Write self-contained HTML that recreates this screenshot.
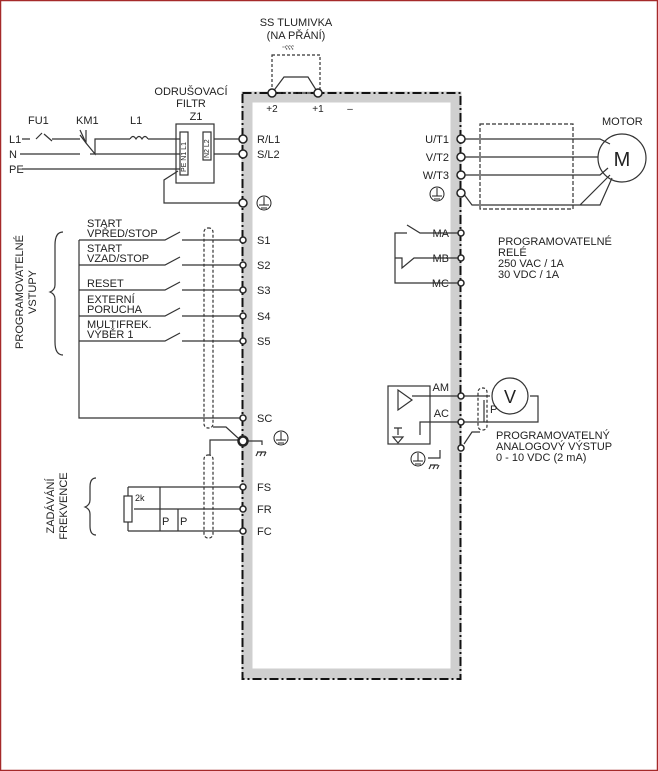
<!DOCTYPE html>
<html><head><meta charset="utf-8"><style>
html,body{margin:0;padding:0;background:#fff}
svg{display:block}
text{font-family:"Liberation Sans",sans-serif;fill:#222}
</style></head><body>
<svg width="658" height="771" viewBox="0 0 658 771" xmlns="http://www.w3.org/2000/svg">
<rect x="0.5" y="0.5" width="657" height="770" fill="#fff" stroke="#a52a2a" stroke-width="1.5"/>
<!-- drive box -->
<rect x="247" y="97" width="209" height="577" fill="none" stroke="#cfcfcf" stroke-width="11"/>
<rect x="242.5" y="93" width="218" height="586" fill="none" stroke="#111" stroke-width="2" stroke-dasharray="9,3,2,3"/>
<g stroke="#333" stroke-width="1.2" fill="none">
<!-- SS tlumivka -->
<rect x="272" y="55" width="48" height="38" stroke-dasharray="3,2"/>
<path d="M272 93 L284 77 L308 77 L318 93"/>
<!-- mains -->
<path d="M22 139 H30 M36 139 L42 133 M44 134 L52 141 M52 139 H80 M80 130 L86 143 L95 154 V139 H130 M148 139 H180"/>
<path d="M86 130 V143 M86 143 L80 135"/>
<path d="M20 154 H80 M90 154 L97 154 M97 154 H180"/>
<path d="M130 139 q3 -5 6 0 q3 -5 6 0 q3 -5 6 0"/>
<path d="M22 169 H180"/>
<!-- filter -->
<rect x="176" y="124" width="38" height="59"/>
<rect x="180" y="132" width="8" height="43"/>
<rect x="203" y="132" width="8" height="28"/>
<path d="M214 139 H240 M214 154 H240"/>
<path d="M178 171 L164 180 V203 H240"/>
<!-- program inputs -->
<path d="M79 240 V418 H240"/>
<path d="M79 240 H165 L180 232 M182 240 H240"/>
<path d="M79 265 H165 L180 257 M182 265 H240"/>
<path d="M79 290 H165 L180 282 M182 290 H240"/>
<path d="M79 316 H165 L180 308 M182 316 H240"/>
<path d="M79 341 H165 L180 333 M182 341 H240"/>
<rect x="204" y="228" width="9" height="200" rx="4" stroke-dasharray="3,2"/>
<rect x="204" y="455" width="9" height="83" rx="4" stroke-dasharray="3,2"/>
<path d="M213 427 H226 L238 438"/>
<path d="M210 455 V440 H238"/>
<path d="M246 441 H262 V445 M257 452 H266 M258 452 L256 456 M262 452 L260 456 M266 452 L264 456"/>
<!-- braces -->
<path d="M63 232 Q55 232 55 245 V285 Q55 290 50 292 Q55 294 55 299 V342 Q55 355 63 355"/>
<path d="M96 478 Q90 478 90 487 V500 Q90 505 85 507 Q90 509 90 514 V526 Q90 535 96 535"/>
<!-- pot -->
<path d="M128 487 H240 M128 531 H240 M128 487 V496 M128 522 V531"/>
<rect x="124" y="496" width="8" height="26"/>
<path d="M134 509 H240"/>
<path d="M160 487 V531 M178 509 V531"/>
<!-- motor -->
<path d="M463 139 H600 L610 144 M463 157 H598 M463 175 H600 L608 168 M463 193 L472 205 H580 L610 175 M478 205 H600 L612 178"/>
<rect x="480" y="124" width="93" height="85" stroke-dasharray="4,2"/>
<circle cx="622" cy="158" r="24"/>
<!-- relay -->
<path d="M458 233 H420 L407 225 M458 258 H414 L402 268 V258 H395 V283 H458 M395 258 V233 H407"/>
<!-- analog -->
<rect x="388" y="386" width="42" height="58"/>
<path d="M398 390 V410 L412 400 Z"/>
<path d="M412 396 H458 M458 422 H420 V435 M394 428 H402 M398 428 V435 M393 437 H403 L398 443 Z"/>
<path d="M463 396 H490 M530 396 H538 V422 H463"/>
<circle cx="510" cy="396" r="18"/>
<rect x="478" y="388" width="9" height="42" rx="4" stroke-dasharray="3,2"/>
<path d="M484 400 V422 M480 432 H472 L464 444"/>
<path d="M440 450 V458 H428 M430 465 H438 M431 465 L429 469 M435 465 L433 469 M439 465 L437 469"/>
</g>
<g fill="#fff" stroke="#222" stroke-width="1.5">
<circle cx="272" cy="93" r="4"/><circle cx="318" cy="93" r="4"/>
<circle cx="243" cy="139" r="4"/><circle cx="243" cy="154" r="4"/><circle cx="243" cy="203" r="4"/>
<circle cx="243" cy="240" r="3"/><circle cx="243" cy="265" r="3"/><circle cx="243" cy="290" r="3"/><circle cx="243" cy="316" r="3"/><circle cx="243" cy="341" r="3"/><circle cx="243" cy="418" r="3"/>
<circle cx="243" cy="441" r="4.5" stroke-width="2.5"/>
<circle cx="243" cy="487" r="3"/><circle cx="243" cy="509" r="3"/><circle cx="243" cy="531" r="3"/>
<circle cx="461" cy="139" r="4"/><circle cx="461" cy="157" r="4"/><circle cx="461" cy="175" r="4"/><circle cx="461" cy="193" r="4"/>
<circle cx="461" cy="233" r="3"/><circle cx="461" cy="258" r="3"/><circle cx="461" cy="283" r="3"/>
<circle cx="461" cy="396" r="3"/><circle cx="461" cy="422" r="3"/><circle cx="461" cy="448" r="3"/>
</g>
<!-- ground symbols -->
<g fill="none" stroke="#222" stroke-width="1">
<circle cx="264" cy="203" r="7"/><path d="M264 197 V205 M259 205 H269 M261 208 H267"/>
<circle cx="281" cy="438" r="7"/><path d="M281 432 V440 M276 440 H286 M278 443 H284"/>
<circle cx="437" cy="194" r="7"/><path d="M437 188 V196 M432 196 H442 M434 199 H440"/>
<circle cx="418" cy="459" r="7"/><path d="M418 453 V461 M413 461 H423 M415 464 H421"/>
</g>
<g font-size="11">
<text x="296" y="26" text-anchor="middle">SS TLUMIVKA</text>
<text x="296" y="39" text-anchor="middle">(NA PŘÁNÍ)</text>
<text x="288" y="50" font-size="6" text-anchor="middle">⁼ʕʕʕ</text>
<text x="272" y="112" font-size="10" text-anchor="middle">+2</text>
<text x="318" y="112" font-size="10" text-anchor="middle">+1</text>
<text x="350" y="112" font-size="10" text-anchor="middle">–</text>
<text x="191" y="95" text-anchor="middle">ODRUŠOVACÍ</text>
<text x="191" y="107" text-anchor="middle">FILTR</text>
<text x="196" y="120" text-anchor="middle">Z1</text>
<text x="28" y="124">FU1</text><text x="76" y="124">KM1</text><text x="130" y="124">L1</text>
<text x="9" y="143">L1</text><text x="9" y="158">N</text><text x="9" y="173">PE</text>
<text x="257" y="143">R/L1</text><text x="257" y="158">S/L2</text>
<text x="257" y="244">S1</text><text x="257" y="269">S2</text><text x="257" y="294">S3</text><text x="257" y="320">S4</text><text x="257" y="345">S5</text><text x="257" y="422">SC</text>
<text x="257" y="491">FS</text><text x="257" y="513">FR</text><text x="257" y="535">FC</text>
<text x="87" y="227">START</text><text x="87" y="237">VPŘED/STOP</text>
<text x="87" y="252">START</text><text x="87" y="262">VZAD/STOP</text>
<text x="87" y="287">RESET</text>
<text x="87" y="303">EXTERNÍ</text><text x="87" y="313">PORUCHA</text>
<text x="87" y="328">MULTIFREK.</text><text x="87" y="338">VÝBĚR 1</text>
<text x="23" y="292" text-anchor="middle" transform="rotate(-90 23 292)">PROGRAMOVATELNÉ</text>
<text x="36" y="292" text-anchor="middle" transform="rotate(-90 36 292)">VSTUPY</text>
<text x="54" y="506" text-anchor="middle" transform="rotate(-90 54 506)">ZADÁVÁNÍ</text>
<text x="67" y="506" text-anchor="middle" transform="rotate(-90 67 506)">FREKVENCE</text>
<text x="135" y="501" font-size="9">2k</text>
<text x="162" y="525">P</text><text x="180" y="525">P</text>
<text x="449" y="143" text-anchor="end">U/T1</text><text x="449" y="161" text-anchor="end">V/T2</text><text x="449" y="179" text-anchor="end">W/T3</text>
<text x="449" y="237" text-anchor="end">MA</text><text x="449" y="262" text-anchor="end">MB</text><text x="449" y="287" text-anchor="end">MC</text>
<text x="449" y="391" text-anchor="end">AM</text><text x="449" y="417" text-anchor="end">AC</text>
<text x="602" y="125">MOTOR</text>
<text x="622" y="166" font-size="20" text-anchor="middle">M</text>
<text x="510" y="403" font-size="18" text-anchor="middle">V</text>
<text x="490" y="413">P</text>
<text x="498" y="245">PROGRAMOVATELNÉ</text><text x="498" y="256">RELÉ</text><text x="498" y="267">250 VAC / 1A</text><text x="498" y="278">30 VDC / 1A</text>
<text x="496" y="439">PROGRAMOVATELNÝ</text><text x="496" y="450">ANALOGOVÝ VÝSTUP</text><text x="496" y="461">0 - 10 VDC (2 mA)</text>
</g>
<g font-size="7" fill="#222">
<text x="186" y="172" transform="rotate(-90 186 172)" style="font-family:Liberation Sans">PE N1 L1</text>
<text x="209" y="158" transform="rotate(-90 209 158)" style="font-family:Liberation Sans">N2 L2</text>
</g>
</svg>
</body></html>
